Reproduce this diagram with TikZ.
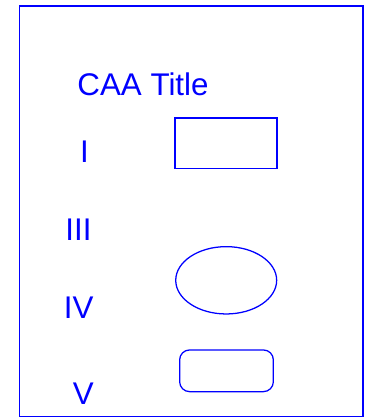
\documentclass[tikz,border=0pt]{standalone}
\usepackage{fontspec}
\setmainfont{Liberation Sans}
\usetikzlibrary{shapes.geometric}
\definecolor{caablue}{RGB}{0,0,255}
\tikzset{
  label/.style={text=caablue,inner sep=0pt,anchor=base,font=\fontsize{23.5}{28}\selectfont},
  shapebox/.style={draw=caablue,line width=0.95pt,inner sep=0pt}
}
\begin{document}
\begin{tikzpicture}[x=0.75pt,y=-0.75pt]
  \useasboundingbox (0,0) rectangle (366,419);
  % frame
  \draw[caablue,line width=1.3pt] (19.5,5.7) rectangle (363,416.5);
  % labels
  \node[label] (title) at (143,95) {CAA Title};
  \node[label] (one) at (84.5,162.7) {I};
  \node[label] (three) at (78.5,240) {III};
  \node[label] (four) at (78.7,318.3) {IV};
  \node[label] (five) at (83.3,404) {V};
  % shapes
  \node[shapebox,minimum width=76.5pt,minimum height=37.8pt] (box) at (226,143.2) {};
  \node[shapebox,ellipse,minimum width=75.7pt,minimum height=50.5pt] (oval) at (226.2,280.3) {};
  \node[shapebox,rounded corners=7.5pt,minimum width=70.3pt,minimum height=31.3pt] (pill) at (226.5,370.8) {};
\end{tikzpicture}
\end{document}
